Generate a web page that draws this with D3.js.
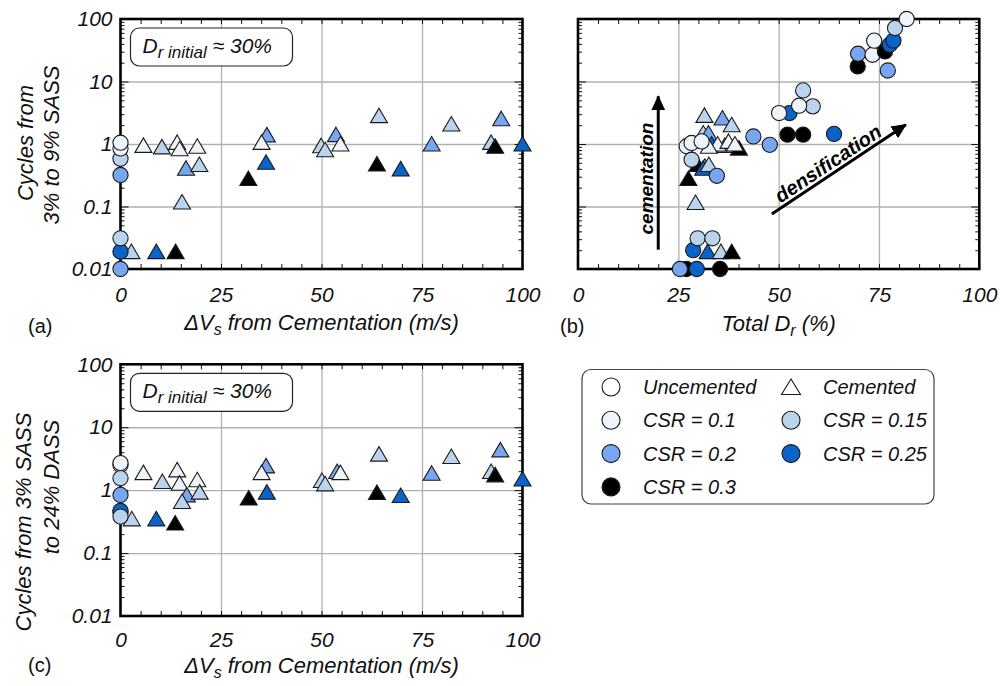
<!DOCTYPE html>
<html>
<head>
<meta charset="utf-8">
<script src="https://cdn.jsdelivr.net/npm/d3@7"></script>
<style>
body { margin: 0; background: #fff; }
text { font-family: "Liberation Sans", Arial, sans-serif; }
</style>
</head>
<body>
<script>
// ---- data (x, y, CSR) ----
const csrLevels = [0.1, 0.15, 0.2, 0.25, 0.3]
const csrColors = ['#eef4f9', '#b9d4ec', '#79a6f2', '#0a64c8', '#000000']
const xTickValues = [0, 25, 50, 75, 100]
const yTickValues = [0.01, 0.1, 1, 10, 100]
const yTickLabels = ['0.01', '0.1', '1', '10', '100']

// (a) cycles 3% -> 9% SASS vs dVs
const aCircles = [[0, 0.019, 0.25], [0, 0.031, 0.15], [0, 0.01, 0.2], [0, 0.32, 0.2], [0, 0.58, 0.15], [0, 0.85, 0.1], [0, 1.05, 0.1]]
const aTriangles = [
  [5.7, 0.95, 0.1], [10.3, 0.9, 0.15], [14.1, 1.06, 0.1], [14.7, 0.84, 0.1], [19.1, 0.92, 0.1],
  [16.3, 0.41, 0.2], [19.6, 0.47, 0.15], [15.3, 0.118, 0.15], [2.7, 0.019, 0.15], [8.9, 0.019, 0.25],
  [13.7, 0.019, 0.3], [31.8, 0.28, 0.3], [36.4, 1.4, 0.2], [35.1, 1.06, 0.1], [36.2, 0.51, 0.25],
  [49.9, 0.94, 0.15], [50.9, 0.81, 0.15], [53.6, 1.41, 0.2], [54.7, 1.0, 0.1], [64.3, 2.84, 0.15],
  [63.8, 0.48, 0.3], [69.7, 0.40, 0.25], [77.4, 1.0, 0.2], [82.3, 2.09, 0.15], [94.7, 2.54, 0.2],
  [92.2, 1.06, 0.15], [93.2, 0.92, 0.3], [100, 1.0, 0.25]
]

// (b) same cycles vs total Dr
const bTriangles = [
  [31.5, 2.87, 0.15], [36.0, 2.6, 0.2], [38.3, 2.03, 0.15], [31.2, 1.5, 0.15], [32.5, 1.5, 0.2],
  [33.3, 1.0, 0.25], [36.6, 0.95, 0.15], [34.8, 1.0, 0.1], [37.5, 1.1, 0.1], [40.1, 0.86, 0.3],
  [39.1, 1.0, 0.1], [32.6, 0.92, 0.1], [29.8, 0.47, 0.3], [31.6, 0.44, 0.2], [31.2, 0.41, 0.25],
  [32.6, 0.47, 0.15], [27.5, 0.28, 0.3], [29.3, 0.116, 0.15], [32.3, 0.019, 0.25], [35.6, 0.019, 0.15],
  [38.3, 0.019, 0.3]
]
const bCircles = [
  [27.1, 0.92, 0.1], [28.3, 0.56, 0.15], [28.3, 1.04, 0.1], [30.8, 1.1, 0.1], [34.6, 0.31, 0.2],
  [28.7, 0.02, 0.25], [29.8, 0.031, 0.15], [33.5, 0.031, 0.15], [27.0, 0.01, 0.3], [25.4, 0.01, 0.2],
  [29.6, 0.01, 0.25], [35.4, 0.01, 0.3], [43.7, 1.32, 0.2], [47.8, 0.97, 0.2], [52.2, 1.41, 0.3],
  [56.1, 1.41, 0.3], [63.8, 1.45, 0.25], [52.7, 3.13, 0.25], [50.1, 3.13, 0.1], [56.1, 7.2, 0.15],
  [58.5, 4.0, 0.15], [55.1, 4.1, 0.1], [69.7, 17.4, 0.3], [69.8, 27.8, 0.2], [73.4, 26.8, 0.1],
  [73.8, 45, 0.1], [77.2, 15, 0.2], [76.5, 30.3, 0.3], [77.7, 38.8, 0.25], [78.6, 45, 0.25],
  [79.0, 71.8, 0.15], [81.9, 100, 0.1]
]

// (c) cycles 3% SASS -> 24% DASS vs dVs
const cCircles = [[0, 2.5, 0.1], [0, 2.69, 0.1], [0, 1.55, 0.15], [0, 0.84, 0.2], [0, 0.44, 0.2], [0, 0.47, 0.25], [0, 0.38, 0.15]]
const cTriangles = [
  [5.7, 1.9, 0.1], [10.4, 1.37, 0.15], [14.1, 2.1, 0.1], [14.7, 1.29, 0.1], [19.1, 1.46, 0.1],
  [16.5, 0.84, 0.2], [19.7, 0.93, 0.15], [15.3, 0.66, 0.15], [2.8, 0.35, 0.15], [8.9, 0.35, 0.25],
  [13.6, 0.30, 0.3], [31.9, 0.75, 0.3], [36.4, 0.93, 0.25], [36.2, 2.43, 0.2], [35.1, 1.9, 0.1],
  [50.1, 1.42, 0.15], [50.9, 1.26, 0.15], [53.9, 1.98, 0.2], [54.7, 1.9, 0.1], [64.3, 3.74, 0.15],
  [63.8, 0.92, 0.3], [69.7, 0.82, 0.25], [77.4, 1.86, 0.2], [82.3, 3.42, 0.15], [94.5, 4.37, 0.2],
  [92.2, 1.98, 0.15], [93.2, 1.75, 0.3], [100, 1.5, 0.25]
]

const legendItems = [
  { label: 'Uncemented', shape: 'circle', csr: null },
  { label: 'Cemented', shape: 'triangle', csr: null },
  { label: 'CSR = 0.1', shape: 'circle', csr: 0.1 },
  { label: 'CSR = 0.15', shape: 'circle', csr: 0.15 },
  { label: 'CSR = 0.2', shape: 'circle', csr: 0.2 },
  { label: 'CSR = 0.25', shape: 'circle', csr: 0.25 },
  { label: 'CSR = 0.3', shape: 'circle', csr: 0.3 }
]

// ---- drawing ----
const svg = d3.select('body').append('svg').attr('width', 1000).attr('height', 686)
const color = d3.scaleOrdinal().domain(csrLevels).range(csrColors)
const triPath = 'M0,-7.5L8.5,7L-8.5,7Z'
const stroke = '#1a1a1a'

const defs = svg.append('defs')
defs.append('marker').attr('id', 'arrow').attr('markerUnits', 'userSpaceOnUse')
  .attr('markerWidth', 16).attr('markerHeight', 14).attr('refX', 14).attr('refY', 7).attr('orient', 'auto')
  .append('path').attr('d', 'M0,0L15,7L0,14Z').attr('fill', '#000')

const minorLog = []
;[0.01, 0.1, 1, 10].forEach(d => d3.range(2, 10).forEach(k => minorLog.push(d * k)))
const minorX = d3.range(5, 100, 5)

function plainTicks(sel) {
  sel.select('.domain').remove()
  sel.selectAll('line').attr('stroke', '#111').attr('stroke-width', 1)
}

function panel(x0, x1, y0, y1, showY, padX) {
  const x = d3.scaleLinear().domain([0, 100]).range([x0, x1])
  const y = d3.scaleLog().domain([0.01, 100]).range([y1, y0])
  const g = svg.append('g')
  const w = x1 - x0, h = y1 - y0

  // grid
  g.append('g').attr('transform', `translate(0,${y1})`)
    .call(d3.axisBottom(x).tickValues([25, 50, 75]).tickSize(-h).tickFormat(''))
    .call(s => { s.select('.domain').remove(); s.selectAll('line').attr('stroke', '#b0b0b0').attr('stroke-width', 1.3) })
  g.append('g').attr('transform', `translate(${x0},0)`)
    .call(d3.axisLeft(y).tickValues([0.1, 1, 10]).tickSize(-w).tickFormat(''))
    .call(s => { s.select('.domain').remove(); s.selectAll('line').attr('stroke', '#b0b0b0').attr('stroke-width', 1.3) })

  // inside ticks
  g.append('g').attr('transform', `translate(0,${y1})`).call(d3.axisBottom(x).tickValues(minorX).tickSize(-5).tickFormat('')).call(plainTicks)
  g.append('g').attr('transform', `translate(0,${y0})`).call(d3.axisTop(x).tickValues(minorX).tickSize(-5).tickFormat('')).call(plainTicks)
  g.append('g').attr('transform', `translate(${x0},0)`).call(d3.axisLeft(y).tickValues(minorLog).tickSize(-4).tickFormat('')).call(plainTicks)
  g.append('g').attr('transform', `translate(${x0},0)`).call(d3.axisLeft(y).tickValues([0.1, 1, 10]).tickSize(-8).tickFormat('')).call(plainTicks)
  g.append('g').attr('transform', `translate(${x1},0)`).call(d3.axisRight(y).tickValues(minorLog).tickSize(-4).tickFormat('')).call(plainTicks)
  g.append('g').attr('transform', `translate(${x1},0)`).call(d3.axisRight(y).tickValues([0.1, 1, 10]).tickSize(-8).tickFormat('')).call(plainTicks)

  g.append('rect').attr('x', x0).attr('y', y0).attr('width', w).attr('height', h)
    .attr('fill', 'none').attr('stroke', '#000').attr('stroke-width', 2.6)

  // tick labels
  g.append('g').attr('transform', `translate(0,${y1})`)
    .call(d3.axisBottom(x).tickValues(xTickValues).tickSize(0).tickPadding(padX))
    .call(s => {
      s.select('.domain').remove()
      s.selectAll('text').attr('font-size', 21).attr('font-style', 'italic').attr('fill', '#111')
        .attr('font-family', '"Liberation Sans", Arial, sans-serif')
    })
  if (showY) {
    g.append('g').attr('transform', `translate(${x0},0)`)
      .call(d3.axisLeft(y).tickValues(yTickValues).tickFormat((d, i) => yTickLabels[i]).tickSize(0).tickPadding(8))
      .call(s => {
        s.select('.domain').remove()
        s.selectAll('text').attr('font-size', 21).attr('font-style', 'italic').attr('fill', '#111')
          .attr('font-family', '"Liberation Sans", Arial, sans-serif')
      })
  }
  return { x, y, g }
}

function marks(p, circles, triangles) {
  p.g.append('g').selectAll('path').data(triangles).enter().append('path')
    .attr('d', triPath)
    .attr('transform', d => `translate(${p.x(d[0])},${p.y(d[1])})`)
    .attr('fill', d => color(d[2])).attr('stroke', stroke).attr('stroke-width', 1.1)
  p.g.append('g').selectAll('circle').data(circles).enter().append('circle')
    .attr('cx', d => p.x(d[0])).attr('cy', d => p.y(d[1])).attr('r', 7.6)
    .attr('fill', d => color(d[2])).attr('stroke', stroke).attr('stroke-width', 1.1)
}

function infoBox(p) {
  const bx = p.x.range()[0] + 10, by = p.y.range()[1] + 9
  p.g.append('rect').attr('x', bx).attr('y', by).attr('width', 162).attr('height', 38)
    .attr('rx', 9).attr('fill', '#fff').attr('stroke', '#222').attr('stroke-width', 1.2)
  const t = p.g.append('text').attr('x', bx + 12).attr('y', by + 25)
    .attr('font-size', 21).attr('font-style', 'italic').attr('fill', '#111')
  t.append('tspan').text('D')
  t.append('tspan').attr('dy', 5).attr('font-size', 17).text('r initial')
  t.append('tspan').attr('dy', -5).text(' \u2248 30%')
}

function xTitle(p, yPos, main, sub, rest) {
  const cx = d3.mean(p.x.range())
  const t = svg.append('text').attr('x', cx).attr('y', yPos).attr('text-anchor', 'middle')
    .attr('font-size', 22).attr('font-style', 'italic').attr('fill', '#111')
  t.append('tspan').text(main)
  t.append('tspan').attr('dy', 5).attr('font-size', 16).text(sub)
  t.append('tspan').attr('dy', -5).text(rest)
}

function yTitle(lines) {
  lines.forEach(l => {
    svg.append('text').attr('transform', `translate(${l.x},${l.y}) rotate(-90)`)
      .attr('text-anchor', 'middle').attr('font-size', 22).attr('font-style', 'italic').attr('fill', '#111')
      .text(l.text)
  })
}

function panelLabel(x, y, txt) {
  svg.append('text').attr('x', x).attr('y', y).attr('font-size', 20).attr('fill', '#111').text(txt)
}

// panel (a)
const pa = panel(120.5, 522.5, 19, 269, true, 18)
marks(pa, aCircles, aTriangles)
infoBox(pa)
xTitle(pa, 330, '\u0394V', 's', ' from Cementation (m/s)')
yTitle([{ x: 33, y: 143, text: 'Cycles from' }, { x: 59, y: 145, text: '3% to 9% SASS' }])
panelLabel(28, 333, '(a)')

// panel (b)
const pb = panel(578, 979.3, 19, 269, false, 18)
// annotations
pb.g.append('line').attr('x1', pb.x(20)).attr('y1', pb.y(0.0204)).attr('x2', pb.x(20)).attr('y2', pb.y(5.8))
  .attr('stroke', '#000').attr('stroke-width', 3).attr('marker-end', 'url(#arrow)')
pb.g.append('text').attr('transform', `translate(${pb.x(20) - 5},${pb.y(0.28)}) rotate(-90)`)
  .attr('text-anchor', 'middle').attr('font-size', 19).attr('font-weight', 'bold').attr('font-style', 'italic')
  .attr('fill', '#000').text('cementation')
pb.g.append('line').attr('x1', pb.x(48.3)).attr('y1', pb.y(0.076)).attr('x2', pb.x(81.7)).attr('y2', pb.y(2.04))
  .attr('stroke', '#000').attr('stroke-width', 3).attr('marker-end', 'url(#arrow)')
{
  const ax = pb.x(48.3), ay = pb.y(0.076), bx = pb.x(81.7), by = pb.y(2.04)
  const ang = Math.atan2(by - ay, bx - ax) * 180 / Math.PI
  pb.g.append('text').attr('transform', `translate(${(ax + bx) / 2 - 7},${(ay + by) / 2}) rotate(${ang})`)
    .attr('text-anchor', 'middle').attr('font-size', 20).attr('font-weight', 'bold').attr('font-style', 'italic')
    .attr('fill', '#000').text('densification')
}
marks(pb, bCircles, bTriangles)
xTitle(pb, 331, 'Total D', 'r', ' (%)')
panelLabel(560, 333, '(b)')

// panel (c)
const pc = panel(120.5, 522.5, 364.3, 616, true, 16)
marks(pc, cCircles, cTriangles)
infoBox(pc)
xTitle(pc, 673, '\u0394V', 's', ' from Cementation (m/s)')
yTitle([{ x: 31, y: 522, text: 'Cycles from 3% SASS' }, { x: 59, y: 487, text: 'to 24% DASS' }])
panelLabel(28, 672, '(c)')

// legend
const lg = svg.append('g')
lg.append('rect').attr('x', 582).attr('y', 369.5).attr('width', 352).attr('height', 134.5)
  .attr('rx', 9).attr('fill', '#fff').attr('stroke', '#444').attr('stroke-width', 1.2)
const colX = [611, 791], rowY0 = 387, rowH = 33.3
legendItems.forEach((d, i) => {
  const col = i < 1 ? 0 : (i === 1 ? 1 : (i - 2) % 2)
  const row = i < 2 ? 0 : Math.floor((i - 2) / 2) + 1
  const cx = colX[col], cy = rowY0 + row * rowH
  const fill = d.csr === null ? '#fff' : color(d.csr)
  if (d.shape === 'circle') {
    lg.append('circle').attr('cx', cx).attr('cy', cy).attr('r', 9).attr('fill', fill).attr('stroke', stroke).attr('stroke-width', 1.1)
  } else {
    lg.append('path').attr('d', 'M0,-8L9.5,7.5L-9.5,7.5Z').attr('transform', `translate(${cx},${cy})`)
      .attr('fill', fill).attr('stroke', stroke).attr('stroke-width', 1.1)
  }
  lg.append('text').attr('x', cx + 32).attr('y', cy + 7).attr('font-size', 20).attr('font-style', 'italic')
    .attr('fill', '#111').text(d.label)
})
</script>
</body>
</html>
